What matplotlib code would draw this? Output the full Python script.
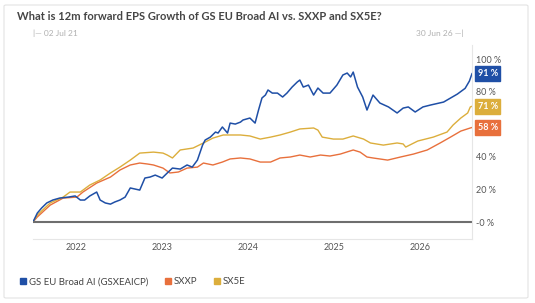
import matplotlib.pyplot as plt
from matplotlib.patches import FancyBboxPatch
from matplotlib.lines import Line2D

plt.rcParams['font.family'] = ['Lato', 'DejaVu Sans']

# decimal years, % growth
ai_t = [2021.50, 2021.55, 2021.60, 2021.66, 2021.73, 2021.81, 2021.91, 2021.99, 2022.05, 2022.10,
        2022.16, 2022.24, 2022.28, 2022.34, 2022.40, 2022.45, 2022.51, 2022.57, 2022.63, 2022.74,
        2022.80, 2022.86, 2022.92, 2023.00, 2023.06, 2023.12, 2023.21, 2023.29, 2023.35, 2023.41,
        2023.47, 2023.50, 2023.56, 2023.62, 2023.65, 2023.70, 2023.76, 2023.79, 2023.85, 2023.91,
        2023.94, 2024.02, 2024.08, 2024.12, 2024.16, 2024.20, 2024.23, 2024.28, 2024.34, 2024.40,
        2024.45, 2024.51, 2024.57, 2024.60, 2024.64, 2024.70, 2024.76, 2024.81, 2024.87, 2024.95,
        2025.03, 2025.10, 2025.15, 2025.19, 2025.22, 2025.27, 2025.33, 2025.38, 2025.45, 2025.53,
        2025.63, 2025.73, 2025.80, 2025.86, 2025.94, 2026.03, 2026.12, 2026.27, 2026.43, 2026.52,
        2026.57, 2026.60]
ai_v = [0.0, 5.5, 8.6, 11.7, 13.5, 14.7, 15.3, 16.0, 13.5, 13.5,
        16.0, 18.4, 13.5, 11.7, 11.0, 12.3, 13.5, 15.3, 20.9, 19.6,
        27.0, 27.6, 28.8, 27.0, 30.1, 33.1, 32.5, 35.0, 33.7, 38.0,
        47.2, 50.3, 52.1, 55.2, 54.6, 58.3, 54.6, 60.7, 60.1, 61.3,
        62.6, 63.8, 60.7, 68.7, 76.1, 77.9, 81.0, 79.1, 79.1, 76.7,
        79.1, 82.8, 85.9, 87.1, 82.8, 84.0, 77.9, 82.2, 79.1, 79.1,
        84.0, 90.2, 91.4, 89.0, 92.0, 82.8, 76.7, 68.7, 77.9, 73.0,
        70.6, 66.9, 69.9, 70.6, 67.5, 70.6, 71.8, 73.6, 78.5, 82.0,
        86.5, 91.0]

sxxp_t = [2021.50, 2021.55, 2021.70, 2021.85, 2022.01, 2022.08, 2022.24, 2022.40, 2022.51, 2022.63,
          2022.74, 2022.83, 2022.90, 2023.01, 2023.09, 2023.19, 2023.29, 2023.41, 2023.48, 2023.59,
          2023.70, 2023.79, 2023.91, 2024.02, 2024.14, 2024.26, 2024.37, 2024.49, 2024.60, 2024.72,
          2024.84, 2024.95, 2025.07, 2025.22, 2025.30, 2025.38, 2025.45, 2025.62, 2025.77, 2025.92,
          2026.08, 2026.23, 2026.35, 2026.47, 2026.58, 2026.60]
sxxp_v = [0.0, 3.1, 10.4, 14.7, 15.3, 18.4, 23.9, 27.6, 31.9, 35.0,
          36.2, 35.6, 35.0, 33.1, 30.1, 30.7, 33.1, 33.7, 36.2, 35.0,
          36.8, 38.7, 39.3, 38.7, 36.8, 36.8, 39.3, 39.9, 41.1, 39.9,
          41.1, 40.5, 41.7, 44.2, 42.9, 39.9, 39.3, 38.0, 39.9, 41.7,
          44.2, 48.5, 52.1, 55.8, 57.7, 58.0]

sx5e_t = [2021.50, 2021.55, 2021.70, 2021.85, 2021.93, 2022.05, 2022.16, 2022.28, 2022.40, 2022.51,
          2022.63, 2022.74, 2022.90, 2023.01, 2023.06, 2023.12, 2023.21, 2023.36, 2023.48, 2023.59,
          2023.71, 2023.91, 2024.02, 2024.14, 2024.26, 2024.37, 2024.49, 2024.60, 2024.76, 2024.81,
          2024.86, 2024.99, 2025.10, 2025.22, 2025.34, 2025.42, 2025.57, 2025.73, 2025.80, 2025.83,
          2025.97, 2026.15, 2026.31, 2026.38, 2026.47, 2026.55, 2026.58, 2026.60]
sx5e_v = [0.0, 4.3, 11.7, 15.3, 18.4, 18.4, 22.7, 25.8, 30.1, 33.7,
          38.0, 42.3, 42.9, 42.3, 41.1, 39.3, 44.2, 45.4, 48.5, 51.5,
          53.4, 53.4, 52.8, 50.9, 52.1, 53.4, 55.2, 57.1, 57.7, 56.4,
          52.1, 50.9, 50.9, 52.8, 50.9, 48.5, 47.2, 48.5, 47.9, 46.0,
          49.7, 52.1, 55.2, 59.5, 63.8, 66.9, 70.6, 71.0]

names = ["GS EU Broad AI (GSXEAICP)", "SXXP", "SX5E"]
colors = ["#1f4fa6", "#e8703c", "#dcae3c"]
years = [2022, 2023, 2024, 2025, 2026]
yticks = [0, 20, 40, 80, 100]
ylabels = ["-0 %", "20 %", "40 %", "80 %", "100 %"]

fig = plt.figure(figsize=(5.35, 3.03), dpi=100)
W, H = 535, 303

# card border
fig.patches.append(FancyBboxPatch((4 / W, 5 / H), 524 / W, 293 / H, boxstyle="round,pad=0,rounding_size=0.004",
                                  transform=fig.transFigure, fc="none", ec="#e3e3e3", lw=0.8))

ax = fig.add_axes([33 / W, (H - 239) / H, 439 / W, 194 / H])
ax.set_xlim(2021.5, 2026.6)
ax.set_ylim(-10.4, 108.6)

ax.plot(sxxp_t, sxxp_v, color=colors[1], lw=1.0)
ax.plot(sx5e_t, sx5e_v, color=colors[2], lw=1.0)
ax.plot(ai_t, ai_v, color=colors[0], lw=1.1)
ax.axhline(0, color="#6e6e6e", lw=1.5)

for s in ["top", "left"]:
    ax.spines[s].set_visible(False)
for s in ["bottom", "right"]:
    ax.spines[s].set_color("#e6e6e6")
    ax.spines[s].set_linewidth(0.8)

ax.set_xticks(years)
ax.set_xticklabels([str(y) for y in years], fontsize=6.5, color="#555555")
ax.tick_params(axis="x", length=0, pad=3)
ax.yaxis.tick_right()
ax.set_yticks(yticks)
ax.set_yticklabels(ylabels, fontsize=6.5, color="#555555")
ax.tick_params(axis="y", length=0, pad=3)

# end value boxes
for vals, c in [(ai_v, colors[0]), (sx5e_v, colors[2]), (sxxp_v, colors[1])]:
    ax.annotate(f"{vals[-1]:.0f} %", xy=(1, vals[-1]), xycoords=("axes fraction", "data"),
                xytext=(4, 0), textcoords="offset points", va="center", ha="left",
                fontsize=6.5, color="white", fontweight="bold",
                bbox=dict(boxstyle="square,pad=0.3", fc=c, ec=c))

fig.text(17 / W, 1 - 17 / H, "What is 12m forward EPS Growth of GS EU Broad AI vs. SXXP and SX5E?",
         fontsize=8.0, fontweight="bold", color="#454545", va="center", ha="left")
fig.text(33 / W, 1 - 33 / H, "|\u2014 02 Jul 21", fontsize=6, color="#b0b0b0", va="center", ha="left")
fig.text(463 / W, 1 - 33 / H, "30 Jun 26 \u2014|", fontsize=6, color="#b0b0b0", va="center", ha="right")

handles = [Line2D([], [], ls="none", marker="s", ms=5, color=c) for c in colors]
fig.legend(handles, names, loc="center left", bbox_to_anchor=(11 / W, 1 - 282 / H), ncol=3,
           frameon=False, fontsize=6.9, handlelength=0.7, handletextpad=0.3, columnspacing=1.65,
           labelcolor="#444444")

plt.savefig("out.png", dpi=100)
